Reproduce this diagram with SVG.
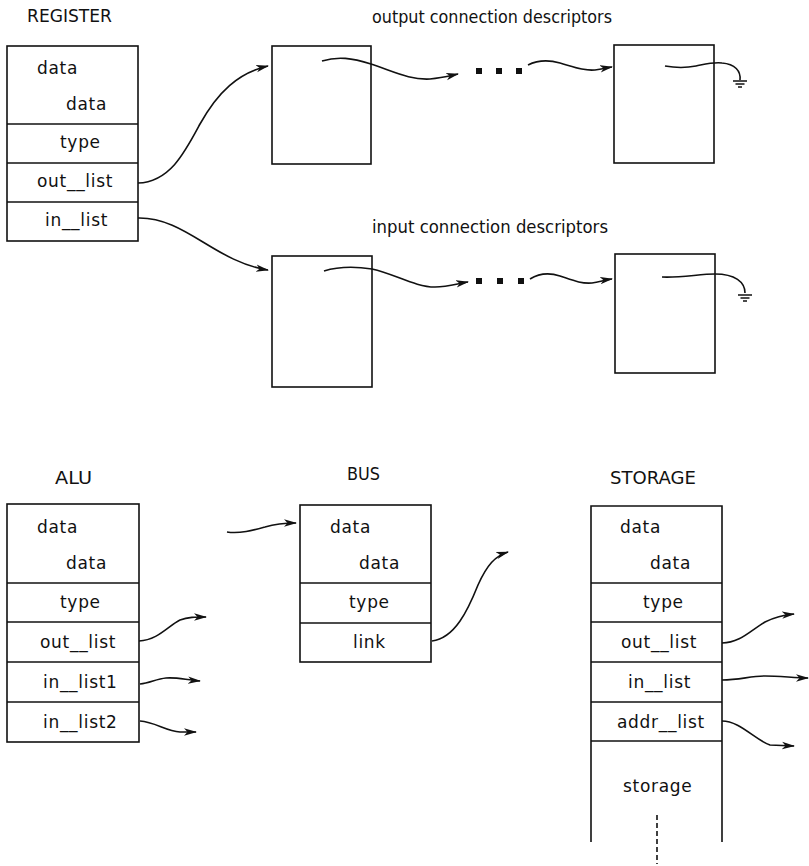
<svg xmlns="http://www.w3.org/2000/svg" width="809" height="866" viewBox="0 0 809 866">
<style>
.box{fill:none;stroke:#111;stroke-width:1.6}
.ln{stroke:#111;stroke-width:1.6;fill:none}
.t{font-family:"DejaVu Sans",sans-serif;font-size:17px;letter-spacing:0.7px;fill:#111}
.lb{font-family:"DejaVu Sans",sans-serif;font-size:17px;fill:#111}
.c{stroke:#111;stroke-width:1.6;fill:none}
.ca{stroke:#111;stroke-width:1.6;fill:none;marker-end:url(#ah)}
.dot{fill:#111}
</style>
<defs>
<marker id="ah" viewBox="0 0 13 9" refX="12" refY="4.5" markerWidth="13" markerHeight="9" markerUnits="userSpaceOnUse" orient="auto">
<path d="M0,0.8 L13,4.5 L0,8.2 L3.5,4.5 Z" fill="#111"/>
</marker>
</defs>
<rect width="809" height="866" fill="#fff"/>

<g id="register">
<text class="lb" x="27" y="22" textLength="85" lengthAdjust="spacingAndGlyphs">REGISTER</text>
<rect class="box" x="7" y="46" width="131" height="195"/>
<line class="ln" x1="7" y1="124" x2="138" y2="124"/>
<line class="ln" x1="7" y1="163" x2="138" y2="163"/>
<line class="ln" x1="7" y1="202" x2="138" y2="202"/>
<text class="t" x="37" y="74">data</text>
<text class="t" x="66" y="110">data</text>
<text class="t" x="60" y="148">type</text>
<text class="t" x="37" y="187">out__list</text>
<text class="t" x="45" y="226">in__list</text>
</g>

<g id="out-descriptors">
<text class="lb" x="372" y="23" textLength="240" lengthAdjust="spacingAndGlyphs">output connection descriptors</text>
<rect id="out-desc-1" class="box" x="272" y="46" width="99" height="118"/>
<rect id="out-desc-n" class="box" x="614" y="45" width="100" height="118"/>
</g>

<g id="in-descriptors">
<text class="lb" x="372" y="233" textLength="236" lengthAdjust="spacingAndGlyphs">input connection descriptors</text>
<rect id="in-desc-1" class="box" x="272" y="256" width="100" height="131"/>
<rect id="in-desc-n" class="box" x="615" y="254" width="100" height="119"/>
</g>

<g id="alu">
<text class="lb" x="55" y="484" textLength="37" lengthAdjust="spacingAndGlyphs">ALU</text>
<rect class="box" x="7" y="504" width="132" height="238"/>
<line class="ln" x1="7" y1="583" x2="139" y2="583"/>
<line class="ln" x1="7" y1="622" x2="139" y2="622"/>
<line class="ln" x1="7" y1="662" x2="139" y2="662"/>
<line class="ln" x1="7" y1="702" x2="139" y2="702"/>
<text class="t" x="37" y="533">data</text>
<text class="t" x="66" y="569">data</text>
<text class="t" x="60" y="608">type</text>
<text class="t" x="40" y="648">out__list</text>
<text class="t" x="43" y="688">in__list1</text>
<text class="t" x="43" y="728">in__list2</text>
</g>

<g id="bus">
<text class="lb" x="347" y="480" textLength="33" lengthAdjust="spacingAndGlyphs">BUS</text>
<rect class="box" x="300" y="505" width="131" height="157"/>
<line class="ln" x1="300" y1="583" x2="431" y2="583"/>
<line class="ln" x1="300" y1="623" x2="431" y2="623"/>
<text class="t" x="330" y="533">data</text>
<text class="t" x="359" y="569">data</text>
<text class="t" x="349" y="608">type</text>
<text class="t" x="353" y="648">link</text>
</g>

<g id="storage">
<text class="lb" x="610" y="484" textLength="86" lengthAdjust="spacingAndGlyphs">STORAGE</text>
<path class="ln" d="M591,842 L591,506 L722,506 L722,842"/>
<line class="ln" x1="591" y1="583" x2="722" y2="583"/>
<line class="ln" x1="591" y1="622" x2="722" y2="622"/>
<line class="ln" x1="591" y1="662" x2="722" y2="662"/>
<line class="ln" x1="591" y1="702" x2="722" y2="702"/>
<line class="ln" x1="591" y1="741" x2="722" y2="741"/>
<line class="ln" x1="657" y1="815" x2="657" y2="864" stroke-dasharray="5,3"/>
<text class="t" x="620" y="533">data</text>
<text class="t" x="650" y="569">data</text>
<text class="t" x="643" y="608">type</text>
<text class="t" x="621" y="648">out__list</text>
<text class="t" x="628" y="688">in__list</text>
<text class="t" x="617" y="728">addr__list</text>
<text class="t" x="623" y="792">storage</text>
</g>

<g id="connectors">
<path class="ca" d="M138,183 C170,182 185,152 200,124 C218,92 238,73 268,66"/>
<path class="ca" d="M138,218 C185,217 215,262 268,270"/>

<path class="ca" d="M322,61 C338,56 352,58 371,64 C395,72 410,80 430,79 C442,78 449,76 458,74"/>
<rect class="dot" x="476" y="68" width="6" height="6"/>
<rect class="dot" x="496" y="68" width="6" height="6"/>
<rect class="dot" x="516" y="68" width="6" height="6"/>
<path class="ca" d="M528,65 C536,61 546,59 560,63 C574,67 584,71 595,70 C602,69 606,68 612,67"/>
<path class="c" d="M665,66 C676,68 686,68 696,66 C706,64 713,62 722,63 C735,64 741,71 740,80"/>
<path class="ln" d="M733,81 L747,81 M735.5,84 L744.5,84 M738,87 L742,87"/>

<path class="ca" d="M324,271 C337,267 352,266 372,269 C395,274 415,287 435,287 C448,287 456,284 468,282"/>
<rect class="dot" x="476" y="278" width="6" height="6"/>
<rect class="dot" x="497" y="278" width="6" height="6"/>
<rect class="dot" x="518" y="278" width="6" height="6"/>
<path class="ca" d="M530,279 C538,274 548,272 560,276 C572,280 581,284 592,283 C599,282 605,280 612,279"/>
<path class="c" d="M662,277 C680,278 700,274 715,274 C735,274 745,282 745,293"/>
<path class="ln" d="M738,295 L752,295 M740.5,298 L749.5,298 M743,301 L747,301"/>

<path class="ca" d="M139,641 C158,640 168,626 180,620 C188,617 195,617 206,617"/>
<path class="ca" d="M140,684 C150,683 156,679 166,678 C177,677 186,680 200,681"/>
<path class="ca" d="M140,721 C155,722 166,731 180,732 L196,732"/>

<path class="ca" d="M227,532 C240,534 254,530 265,527 C275,524 284,523 296,523"/>
<path class="ca" d="M432,641 C455,638 468,610 478,585 C487,565 495,556 508,552"/>

<path class="ca" d="M722,643 C740,643 751,630 765,622 C775,617 783,615 794,614"/>
<path class="ca" d="M722,680 C740,680 750,676 765,676 C780,676 795,678 808,678"/>
<path class="ca" d="M722,721 C740,721 755,740 770,745 L794,746"/>
</g>
</svg>
